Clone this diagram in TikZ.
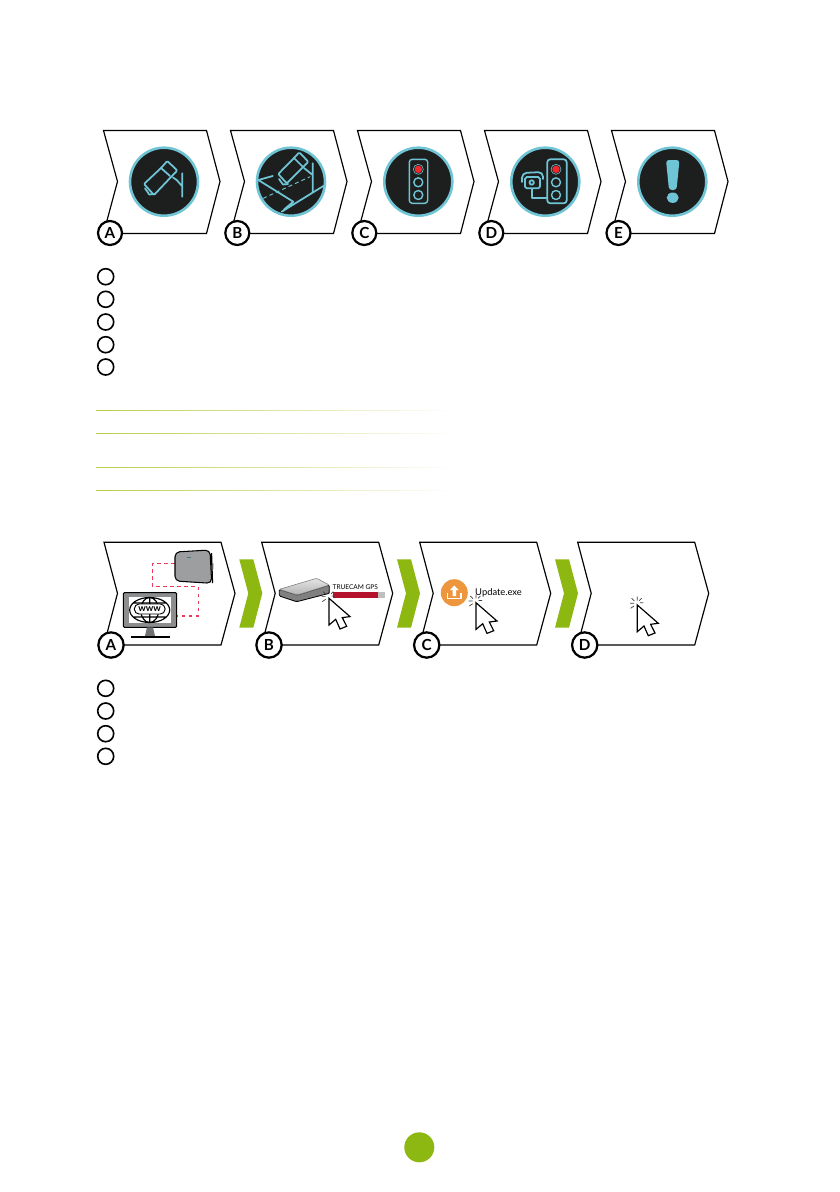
\documentclass[tikz,border=0pt]{standalone}
\usepackage{fontspec}
\setmainfont{Lato}
\usetikzlibrary{positioning, calc}
\definecolor{ringcolor}{RGB}{111, 197, 213}
\definecolor{discolor}{RGB}{29, 31, 31}
\definecolor{leafcolor}{RGB}{140, 184, 17}
\definecolor{rulecolor}{RGB}{181, 207, 74}
\definecolor{lampcolor}{RGB}{237, 41, 46}
\definecolor{linkcolor}{RGB}{238, 58, 90}
\definecolor{devicecolor}{RGB}{140, 141, 143}
\definecolor{barcolor}{RGB}{181, 19, 45}
\definecolor{updatecolor}{RGB}{238, 150, 62}

\begin{document}
\begin{tikzpicture}[
    x=0.03cm, y=-0.03cm,
    chevron/.style={draw=black, fill=white, line width=1pt, line join=miter},
    leaf/.style={fill=leafcolor, draw=none},
    disc/.style={circle, draw=ringcolor, fill=discolor, line width=2.2pt, minimum size=2.04cm, inner sep=0pt},
    badge/.style={circle, draw=black, fill=white, line width=1.9pt, minimum size=0.72cm, inner sep=0pt, font=\fontsize{13}{13}\selectfont\bfseries},
    bigbadge/.style={badge, minimum size=0.76cm},
    tick/.style={circle, draw=black, fill=white, line width=1.4pt, minimum size=0.48cm, inner sep=0pt},
    glyph/.style={draw=ringcolor, line width=1.5pt, line join=round, line cap=round},
    sparks/.style={line width=0.6pt, black!75},
    pics/clickcursor/.style={code={
        \draw[fill=white, line width=1pt, line join=miter] (0,0) -- (0,26.7) -- (6.7,21) -- (11,30.7) -- (17.7,28) -- (13.3,19.3) -- (21,18.3) -- cycle;
        \draw[sparks] (0,-8.3) -- (0,-4.3) (-5.7,-6.7) -- (-3,-4) (-7.3,-1.7) -- (-3.3,-1.7) (-6.7,3.3) -- (-3.3,1) (6,-2.3) -- (2.7,-2.3) (4.3,-6.7) -- (2,-4.3);
    }},
    pics/fadedrule/.style={code={
        \foreach \k in {0,...,59} {
            \pgfmathsetmacro{\tint}{100-\k*100/60}
            \draw[rulecolor!\tint!white, line width=0.9pt] (\k*6,0) -- ({(\k+1)*6+0.3},0);
        }
    }}
]
\useasboundingbox (0,0) rectangle (840,1192);
\fill[white] (0,0) rectangle (840,1192);

% ========== TOP ROW ==========
\draw[chevron] (103.5,130.5) -- (206.5,130.5) -- (220,181.5) -- (206.5,233.5) -- (103.5,233.5) -- (117.5,181.5) -- cycle;
\draw[chevron] (230.5,130.5) -- (333.5,130.5) -- (347,181.5) -- (333.5,233.5) -- (230.5,233.5) -- (244.5,181.5) -- cycle;
\draw[chevron] (357.5,130.5) -- (460.5,130.5) -- (474,181.5) -- (460.5,233.5) -- (357.5,233.5) -- (371.5,181.5) -- cycle;
\draw[chevron] (484.5,130.5) -- (587.5,130.5) -- (601,181.5) -- (587.5,233.5) -- (484.5,233.5) -- (498.5,181.5) -- cycle;
\draw[chevron] (611.5,130.5) -- (714.5,130.5) -- (728,181.5) -- (714.5,233.5) -- (611.5,233.5) -- (625.5,181.5) -- cycle;

\node[disc] (discA) at (164,181.7) {};
\node[disc] (discB) at (291,181.7) {};
\node[disc] (discC) at (418.3,181.7) {};
\node[disc] (discD) at (545.3,181.7) {};
\node[disc] (discE) at (672.3,181.7) {};

% Camera
\draw[glyph, rounded corners=1pt] (144,184) -- (161,168) -- (167.3,161) -- (177.3,170.5) -- (172,176) -- (154,195) -- cycle;
\draw[glyph] (161,168) -- (170,176) (145,188.3) -- (149.3,194.5) -- (155,194);
\draw[glyph] (173,177.5) -- (176.7,180) -- (181.7,185.7) (182.3,173.3) -- (182.3,196.7);

% Camera over a road
\draw[glyph, rounded corners=1pt] (278.3,174) -- (294,158) -- (299.3,152.3) -- (308.3,161.7) -- (303,167) -- (286.7,183.3) -- cycle;
\draw[glyph] (294,158) -- (303,167) (279,179) -- (283,184.5) -- (288,184);
\draw[glyph] (304,168) -- (312.7,175) (312.7,163.3) -- (312.7,191.7);
\draw[glyph] (258.3,180) -- (272.7,176) (258.3,180) -- (293.3,201.7) -- (284,209.5) (281.7,211.7) -- (325,185);
\draw[glyph, line width=0.8pt, dashed] (263.3,198.3) -- (310,176.7);

% Traffic light
\draw[glyph, line width=1.2pt, rounded corners=2.5pt] (409.3,159.3) rectangle (427.7,203.3);
\fill[lampcolor] (418.3,169.3) circle (3.7);
\draw[glyph, line width=0.5pt] (418.3,169.3) circle (5);
\draw[glyph, line width=1.2pt] (418.3,182.3) circle (4.5);
\draw[glyph, line width=1.2pt] (418.3,195) circle (4.5);

% Camera and traffic light
\draw[glyph, rounded corners=2.5pt] (547.3,159.3) rectangle (566.7,203.3);
\fill[lampcolor] (556,169.3) circle (3.7);
\draw[glyph, line width=0.5pt] (556,169.3) circle (5);
\draw[glyph, line width=1.2pt] (556,182.3) circle (4.5);
\draw[glyph, line width=1.2pt] (556,195) circle (4.5);
\draw[glyph, rounded corners=1.5pt] (525,177) rectangle (540,188.3);
\draw[glyph] (531.7,182.5) circle (2.2);
\draw[glyph, rounded corners=4pt] (522,182) -- (522,173) -- (543,172) -- (543,179);
\draw[glyph] (531.7,189.3) -- (531.7,198.3) -- (547.3,198.3);

% Exclamation mark
\fill[ringcolor, rounded corners=2.5pt] (666,160) -- (679.5,160) -- (676.5,190) -- (669,190) -- cycle;
\fill[ringcolor] (672.7,197.7) ellipse (6 and 5.2);

\node[badge] (badgeA) at (110,233) {A};
\node[badge] (badgeB) at (237.3,233) {B};
\node[badge] (badgeC) at (364.3,233) {C};
\node[badge] (badgeD) at (491.3,233) {D};
\node[badge] (badgeE) at (618.5,233) {E};

% ========== EMPTY LIST ==========
\node[tick] (tickA) at (105.7,276.7) {};
\node[tick] (tickB) at (105.7,299.3) {};
\node[tick] (tickC) at (105.7,322) {};
\node[tick] (tickD) at (105.7,344.7) {};
\node[tick] (tickE) at (105.7,367) {};

% ========== TABLE RULES ==========
\pic at (96,410.3) {fadedrule};
\pic at (96,433.3) {fadedrule};
\pic at (96,467.3) {fadedrule};
\pic at (96,490.3) {fadedrule};

% ========== LOWER ROW ==========
\draw[chevron] (104,542.3) -- (221,542.3) -- (235,593.3) -- (221,645) -- (104,645) -- (117.5,593.3) -- cycle;
\draw[chevron] (261.7,542.3) -- (378.7,542.3) -- (392.7,593.3) -- (378.7,645) -- (261.7,645) -- (275.2,593.3) -- cycle;
\draw[chevron] (419.7,542.3) -- (536.7,542.3) -- (550.7,593.3) -- (536.7,645) -- (419.7,645) -- (433.2,593.3) -- cycle;
\draw[chevron] (577.7,542.3) -- (694.7,542.3) -- (708.7,593.3) -- (694.7,645) -- (577.7,645) -- (591.2,593.3) -- cycle;

\fill[leaf] (239.3,559.3) -- (253.3,559.3) -- (262.3,593.3) -- (253.3,627.7) -- (239.3,627.7) -- (248.3,593.3) -- cycle;
\fill[leaf] (397,559.3) -- (411,559.3) -- (420,593.3) -- (411,627.7) -- (397,627.7) -- (406,593.3) -- cycle;
\fill[leaf] (555,559.3) -- (569,559.3) -- (578,593.3) -- (569,627.7) -- (555,627.7) -- (564,593.3) -- cycle;

% Dashed link
\draw[linkcolor, line width=1pt, dashed] (175,563.3) -- (152.7,563.3) -- (152.7,586.7) -- (198.3,586.7) -- (198.3,616) -- (177.3,616);

% Device
\draw[black, fill=devicecolor!85!white, line width=0.9pt, rounded corners=4pt] (175,552) -- (210,550) -- (211.7,583.3) -- (175,581) -- cycle;
\draw[black, line width=1.1pt] (211.5,553) -- (212.5,583);
\fill[yellow!80!orange] (212.8,563) rectangle (214.3,569);
\fill[ringcolor!60!black] (187,556.5) rectangle (191,558);

% Monitor
\draw[black, fill=devicecolor, line width=0.9pt, rounded corners=1pt] (123.3,592.7) rectangle (176.7,627.3);
\fill[white] (129.3,596.7) rectangle (171,623.3);
\draw[black, line width=1pt] (149.7,610) ellipse (20 and 12.5) (149.7,610) ellipse (9 and 12.5) (149.7,597.5) -- (149.7,622.5) (133,603) -- (166.5,603) (133,617) -- (166.5,617);
\node[draw=black, fill=white, line width=0.8pt, rounded corners=4pt, minimum width=0.92cm, minimum height=0.3cm, inner sep=0pt, font=\fontsize{8}{8}\selectfont\bfseries] (www) at (149.7,609) {www};
\fill[devicecolor!80!black] (147,627.3) -- (153,627.3) -- (155,636) -- (145,636) -- cycle;
\draw[black, line width=1.6pt] (130.7,637.3) -- (170,637.3);

% Drive and progress bar
\draw[black, fill=black!50, line width=0.7pt, rounded corners=1pt] (279.3,589.3) -- (279.3,596) -- (296.7,601.7) -- (329.3,593.3) -- (329.3,585) -- (297.3,595) -- cycle;
\draw[black!50, top color=black!10, bottom color=black!30, line width=0.5pt, rounded corners=1pt] (279.3,589.3) -- (316.7,578.3) -- (329.3,585) -- (297.3,595) -- cycle;
\node[font=\fontsize{5.6}{6}\selectfont, inner sep=0pt] (drivename) at (355.3,587.3) {TRUECAM GPS};
\fill[black!25] (333.3,592.3) rectangle (385,597.7);
\fill[barcolor] (333.3,592.3) rectangle (377.7,597.7);
\pic at (329,598.3) {clickcursor};

% Update icon
\node[circle, fill=updatecolor, minimum size=0.81cm, inner sep=0pt] (updateicon) at (454.3,592.7) {};
\fill[white] (454.3,585.5) -- (458.5,590) -- (456,590) -- (456,596) -- (452.6,596) -- (452.6,590) -- (450,590) -- cycle;
\draw[white, line width=1.3pt] (447.5,593) -- (447.5,598.5) -- (461,598.5) -- (461,593);
\node[anchor=west, font=\fontsize{8}{9}\selectfont, inner sep=0pt] (updatename) at (475,592.7) {Update.exe};
\pic at (476,602.7) {clickcursor};

\pic at (637.3,605) {clickcursor};

\node[bigbadge] (badgeF) at (111,645) {A};
\node[bigbadge] (badgeG) at (269,645) {B};
\node[bigbadge] (badgeH) at (426.7,645) {C};
\node[bigbadge] (badgeI) at (584.7,645) {D};

% ========== SECOND LIST ==========
\node[tick] (tickF) at (105.7,688.3) {};
\node[tick] (tickG) at (105.7,711) {};
\node[tick] (tickH) at (105.7,733.7) {};
\node[tick] (tickI) at (105.7,756.3) {};

% ========== PAGE MARK ==========
\node[circle, fill=leafcolor, minimum size=0.9cm, inner sep=0pt] (pagemark) at (419.3,1147.3) {};

\end{tikzpicture}
\end{document}
